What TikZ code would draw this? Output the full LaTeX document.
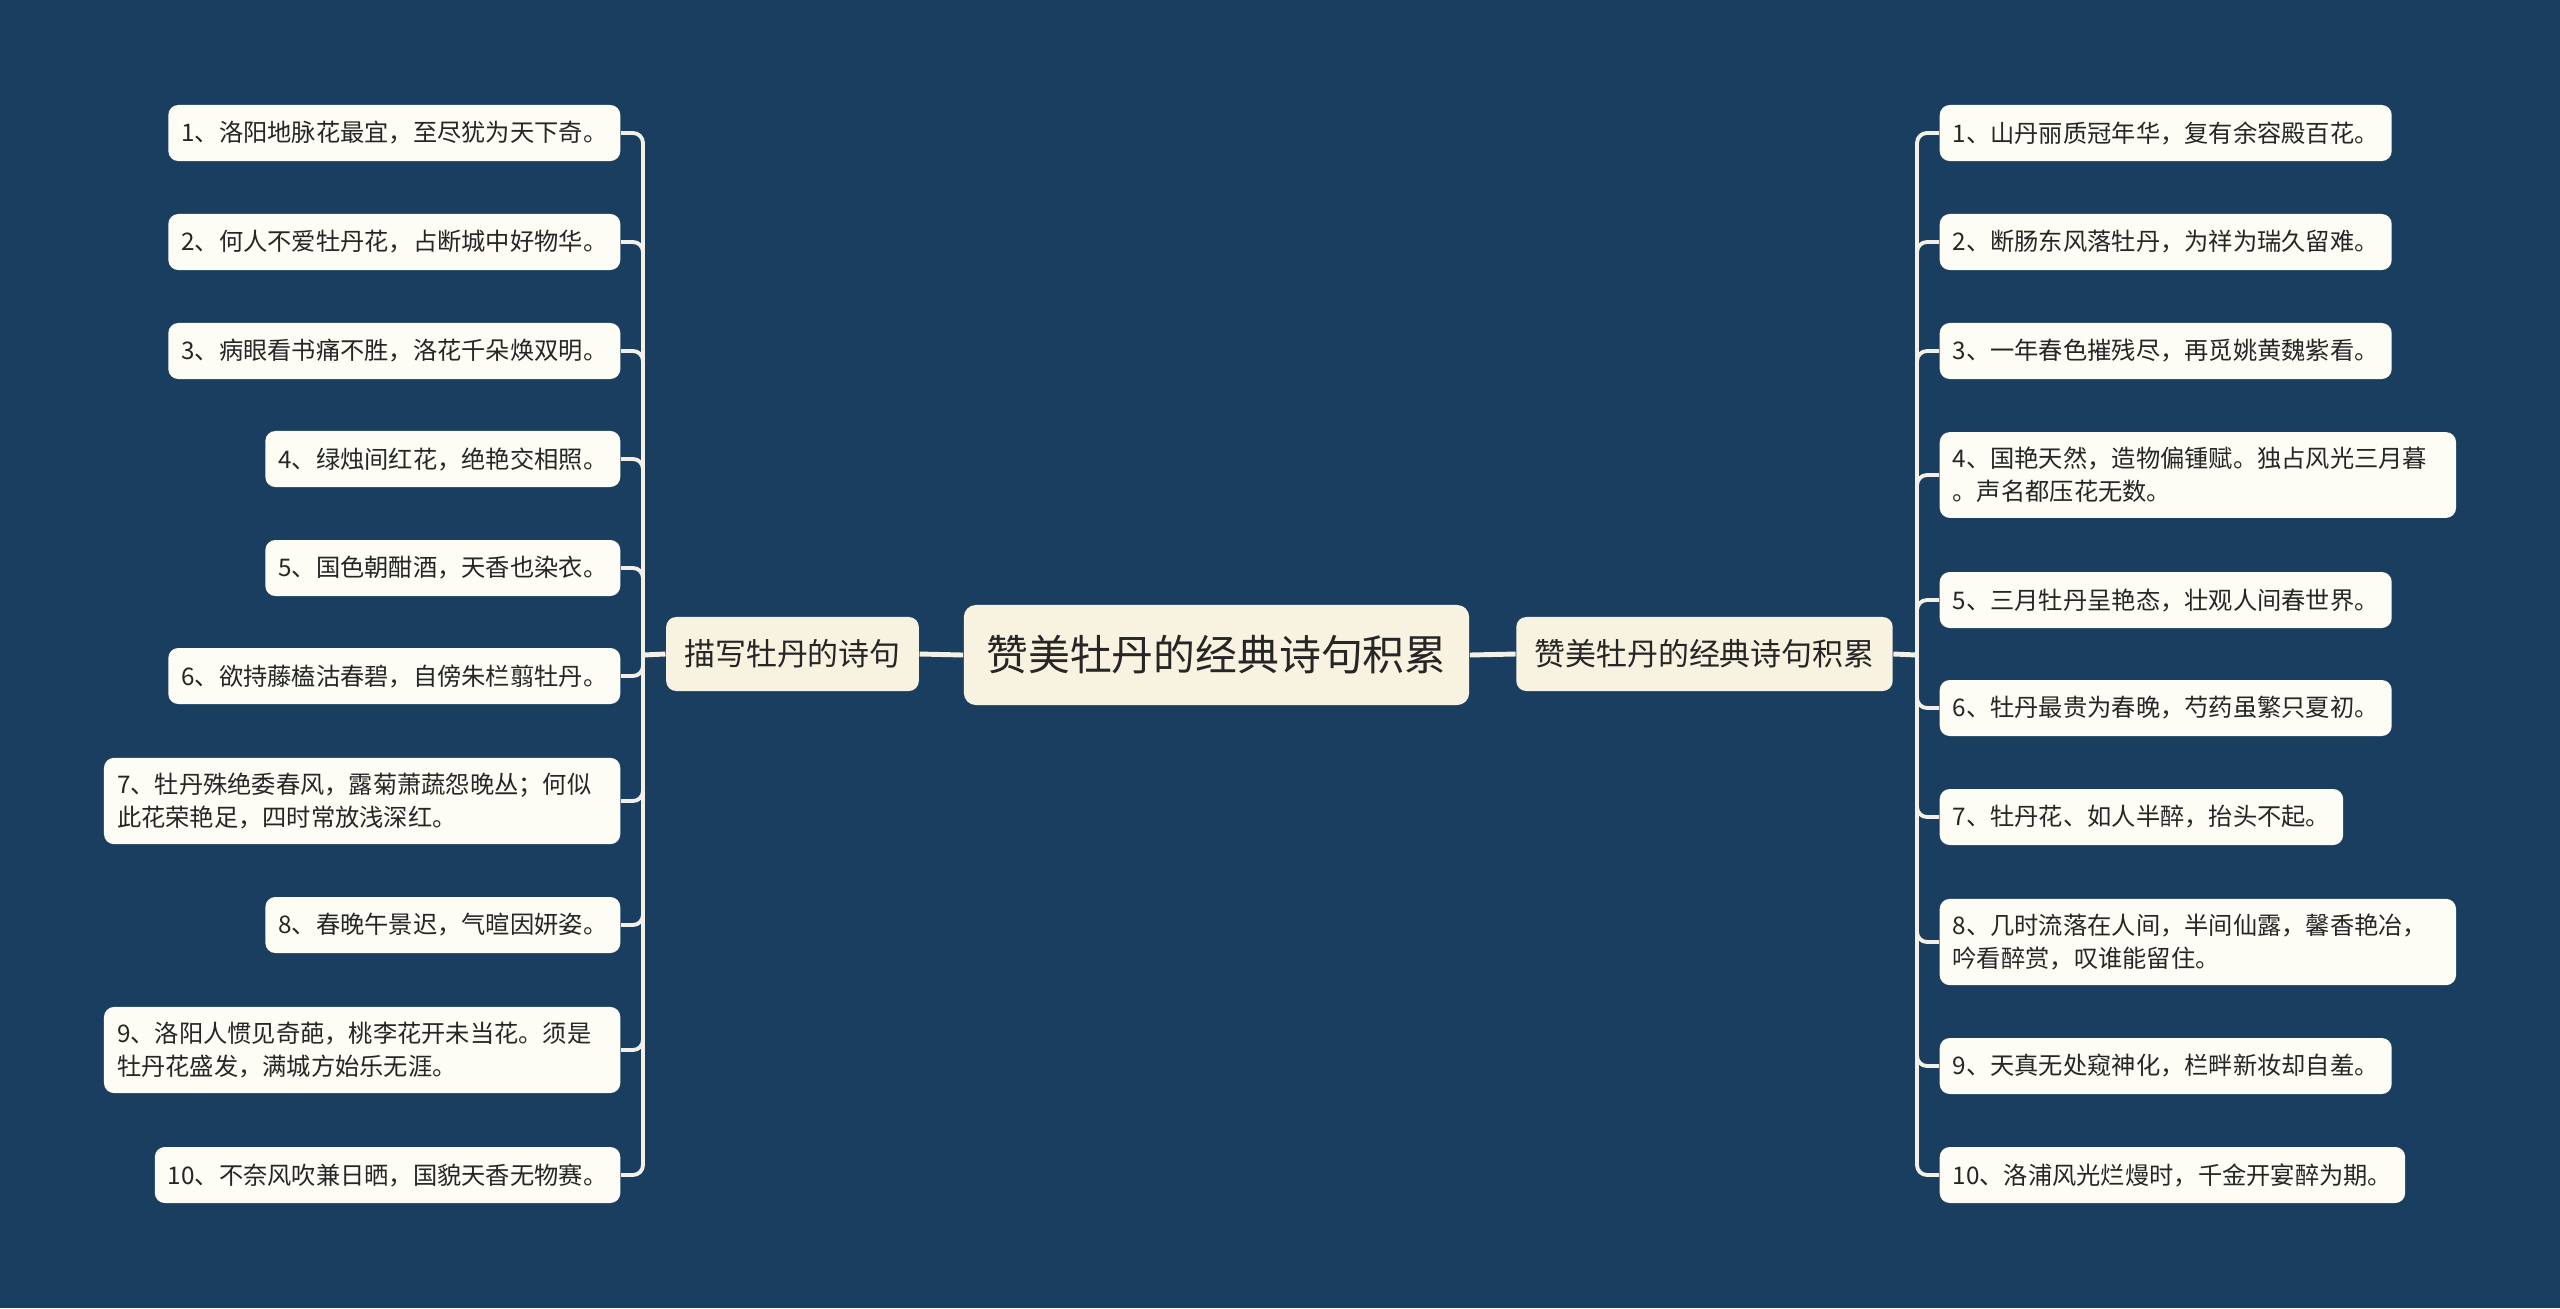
\documentclass[tikz,border=0pt]{standalone}
\usepackage{fontspec}
\setmainfont{Noto Sans CJK SC}
\usepackage{tikz}
\definecolor{navy}{HTML}{1A3E5F}
\definecolor{cream}{HTML}{F8F3E0}
\definecolor{paper}{HTML}{FDFCF5}
\definecolor{wire}{HTML}{F3F1E7}
\definecolor{ink}{HTML}{262626}

\begin{document}
\begin{tikzpicture}[x=0.01cm, y=-0.01cm,
    rootbox/.style={fill=cream, rounded corners=0.12cm, text=ink,
      font=\fontsize{11.9pt}{14pt}\selectfont, minimum width=5.05cm,
      minimum height=1cm, inner sep=0pt},
    branchbox/.style={fill=cream, rounded corners=0.1cm, text=ink,
      font=\fontsize{8.8pt}{11pt}\selectfont, minimum height=0.74cm,
      inner xsep=0.18cm, inner ysep=0pt},
    leafbox/.style={fill=paper, rounded corners=0.1cm, text=ink,
      font=\fontsize{6.9pt}{9.4pt}\selectfont, minimum height=0.56cm,
      inner xsep=0.13cm, inner ysep=0.15cm, align=left},
    lleaf/.style={leafbox, anchor=east},
    rleaf/.style={leafbox, anchor=west},
    mainlink/.style={wire, line width=1.4pt},
    leaflink/.style={wire, line width=1.1pt, rounded corners=0.1cm}]

        % Background
        \fill[navy] (0,0) rectangle (2560,1308);

        % Root and branches
        \node[rootbox] (root) at (1216.5,655) {赞美牡丹的经典诗句积累};
        \node[branchbox] (lbranch) at (792.5,654) {描写牡丹的诗句};
        \node[branchbox] (rbranch) at (1704.5,654) {赞美牡丹的经典诗句积累};
        \coordinate (ltrunk) at (643,655);
        \coordinate (rtrunk) at (1917,655);

        % Left leaves
        \node[lleaf] (l1) at (621,133) {1、洛阳地脉花最宜，至尽犹为天下奇。};
        \node[lleaf] (l2) at (621,242) {2、何人不爱牡丹花，占断城中好物华。};
        \node[lleaf] (l3) at (621,351) {3、病眼看书痛不胜，洛花千朵焕双明。};
        \node[lleaf] (l4) at (621,459) {4、绿烛间红花，绝艳交相照。};
        \node[lleaf] (l5) at (621,568) {5、国色朝酣酒，天香也染衣。};
        \node[lleaf] (l6) at (621,676) {6、欲持藤榼沽春碧，自傍朱栏翦牡丹。};
        \node[lleaf, text width=4.9cm] (l7) at (621,801)
          {7、牡丹殊绝委春风，露菊萧蔬怨晚丛；何似\\此花荣艳足，四时常放浅深红。};
        \node[lleaf] (l8) at (621,925) {8、春晚午景迟，气暄因妍姿。};
        \node[lleaf, text width=4.9cm] (l9) at (621,1050)
          {9、洛阳人惯见奇葩，桃李花开未当花。须是\\牡丹花盛发，满城方始乐无涯。};
        \node[lleaf] (l10) at (621,1175) {10、不奈风吹兼日晒，国貌天香无物赛。};

        % Right leaves
        \node[rleaf] (r1) at (1939,133) {1、山丹丽质冠年华，复有余容殿百花。};
        \node[rleaf] (r2) at (1939,242) {2、断肠东风落牡丹，为祥为瑞久留难。};
        \node[rleaf] (r3) at (1939,351) {3、一年春色摧残尽，再觅姚黄魏紫看。};
        \node[rleaf, text width=4.9cm] (r4) at (1939,475)
          {4、国艳天然，造物偏锺赋。独占风光三月暮\\。声名都压花无数。};
        \node[rleaf] (r5) at (1939,600) {5、三月牡丹呈艳态，壮观人间春世界。};
        \node[rleaf] (r6) at (1939,708) {6、牡丹最贵为春晚，芍药虽繁只夏初。};
        \node[rleaf] (r7) at (1939,817) {7、牡丹花、如人半醉，抬头不起。};
        \node[rleaf, text width=4.9cm] (r8) at (1939,942)
          {8、几时流落在人间，半间仙露，馨香艳冶，\\吟看醉赏，叹谁能留住。};
        \node[rleaf] (r9) at (1939,1066) {9、天真无处窥神化，栏畔新妆却自羞。};
        \node[rleaf] (r10) at (1939,1175) {10、洛浦风光烂熳时，千金开宴醉为期。};

        % Main links
        \draw[mainlink] (root.west) -- (lbranch.east);
        \draw[mainlink] (root.east) -- (rbranch.west);
        \draw[mainlink] (lbranch.west) -- (ltrunk);
        \draw[mainlink] (rbranch.east) -- (rtrunk);

        % Leaf links, left
        \draw[leaflink] (ltrunk) |- (l1.east);
        \draw[leaflink] (ltrunk) |- (l2.east);
        \draw[leaflink] (ltrunk) |- (l3.east);
        \draw[leaflink] (ltrunk) |- (l4.east);
        \draw[leaflink] (ltrunk) |- (l5.east);
        \draw[leaflink] (ltrunk) |- (l6.east);
        \draw[leaflink] (ltrunk) |- (l7.east);
        \draw[leaflink] (ltrunk) |- (l8.east);
        \draw[leaflink] (ltrunk) |- (l9.east);
        \draw[leaflink] (ltrunk) |- (l10.east);

        % Leaf links, right
        \draw[leaflink] (rtrunk) |- (r1.west);
        \draw[leaflink] (rtrunk) |- (r2.west);
        \draw[leaflink] (rtrunk) |- (r3.west);
        \draw[leaflink] (rtrunk) |- (r4.west);
        \draw[leaflink] (rtrunk) |- (r5.west);
        \draw[leaflink] (rtrunk) |- (r6.west);
        \draw[leaflink] (rtrunk) |- (r7.west);
        \draw[leaflink] (rtrunk) |- (r8.west);
        \draw[leaflink] (rtrunk) |- (r9.west);
        \draw[leaflink] (rtrunk) |- (r10.west);
      \end{tikzpicture}
\end{document}
